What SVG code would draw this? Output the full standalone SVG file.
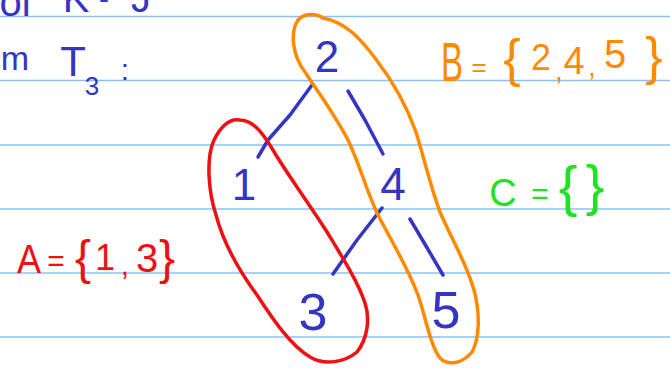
<svg xmlns="http://www.w3.org/2000/svg" width="670" height="370" viewBox="0 0 670 370">
<style>
.rule{stroke:#8cc0f2;stroke-width:1.6}
.hw{font-family:"Liberation Sans","DejaVu Sans",sans-serif;text-anchor:middle}
.blue{fill:#3535c4}
.org{fill:#ff8a00}
.red{fill:#ee1111}
.grn{fill:#22e022}
.edge{stroke:#3535c4;stroke-width:3.5;fill:none;stroke-linecap:round;stroke-linejoin:round}
.loop{fill:none;stroke-width:3.5;stroke-linecap:round;stroke-linejoin:round}
</style>
<rect width="670" height="370" fill="#ffffff"/>
<g id="rules">
<line class="rule" x1="0" y1="16.5" x2="670" y2="16.5"/>
<line class="rule" x1="0" y1="80.5" x2="670" y2="80.5"/>
<line class="rule" x1="0" y1="145" x2="670" y2="145"/>
<line class="rule" x1="0" y1="209" x2="670" y2="209"/>
<line class="rule" x1="0" y1="273" x2="670" y2="273"/>
<line class="rule" x1="0" y1="337" x2="670" y2="337"/>
</g>
<g id="heading" class="hw blue" font-size="40">
<text x="15" y="16">ol</text>
<text x="76" y="12">K</text>
<text x="104" y="9" font-size="30">-</text>
<text x="141" y="12">J</text>
<text x="15" y="70" font-size="34">m</text>
<text x="73" y="76" font-size="42">T</text>
<text x="92" y="95" font-size="26">3</text>
<text x="125" y="80" font-size="30">:</text>
</g>
<g id="connectors">
<path class="edge" d="M312,85 L290,115 L268,140 L258,157"/>
<path class="edge" d="M348,91 L365,120 L383,154"/>
<path class="edge" d="M382,208 L357,240 L333,274"/>
<path class="edge" d="M410,219 L426,246 L443,275"/>
</g>
<g id="node-2"><text class="hw blue" x="327" y="72" font-size="44">2</text></g>
<g id="node-1"><text class="hw blue" x="244" y="200" font-size="44">1</text></g>
<g id="node-4"><text class="hw blue" x="393" y="200" font-size="46">4</text></g>
<g id="node-3"><text class="hw blue" x="313" y="330" font-size="52">3</text></g>
<g id="node-5"><text class="hw blue" x="446" y="328" font-size="52">5</text></g>
<g id="set-A">
<path class="loop" stroke="#ee1111" d="M240,120 C228,118 220,128 214,140 C206,158 208,190 216,215 C224,245 240,272 257,295 C272,318 290,345 310,357 C325,366 345,362 357,352 C368,338 370,318 365,303 C358,282 344,260 327,232 C310,205 290,178 276,155 C266,138 255,120 240,120 Z"/>
<g class="hw red" font-size="40">
<text x="29" y="273" textLength="24" lengthAdjust="spacingAndGlyphs">A</text>
<text x="56" y="271" font-size="30">=</text>
<text x="83" y="274" font-size="48">{</text>
<text x="105" y="270" font-size="36">1</text>
<text x="125" y="275" font-size="30">,</text>
<text x="147" y="272" font-size="40">3</text>
<text x="167" y="274" font-size="48">}</text>
</g>
</g>
<g id="set-B">
<path class="loop" stroke="#ff8a00" d="M323,18 C316,13 304,13 298,20 C290,32 292,55 305,72 C318,92 335,115 348,140 C360,165 366,190 378,215 C392,242 408,268 418,295 C426,318 430,345 440,358 C448,366 462,364 472,352 C480,338 480,312 474,290 C466,262 452,240 440,212 C430,185 424,158 416,132 C406,104 392,80 375,58 C360,38 345,22 323,18"/>
<g class="hw org" font-size="44">
<text x="452" y="81" font-size="56" textLength="22" lengthAdjust="spacingAndGlyphs">B</text>
<text x="479" y="76" font-size="26">=</text>
<text x="512" y="76" font-size="52">{</text>
<text x="541" y="70" font-size="36">2</text>
<text x="559" y="80" font-size="28">,</text>
<text x="574" y="74" font-size="38">4</text>
<text x="592" y="76" font-size="28">,</text>
<text x="615" y="68" font-size="40">5</text>
<text x="654" y="74" font-size="52">}</text>
</g>
</g>
<g id="set-C">
<g class="hw grn">
<text x="503" y="206" font-size="38">C</text>
<text x="540" y="204" font-size="30">=</text>
<text x="568" y="205" font-size="56">{</text>
<text x="595" y="204" font-size="56">}</text>
</g>
</g>
</svg>
